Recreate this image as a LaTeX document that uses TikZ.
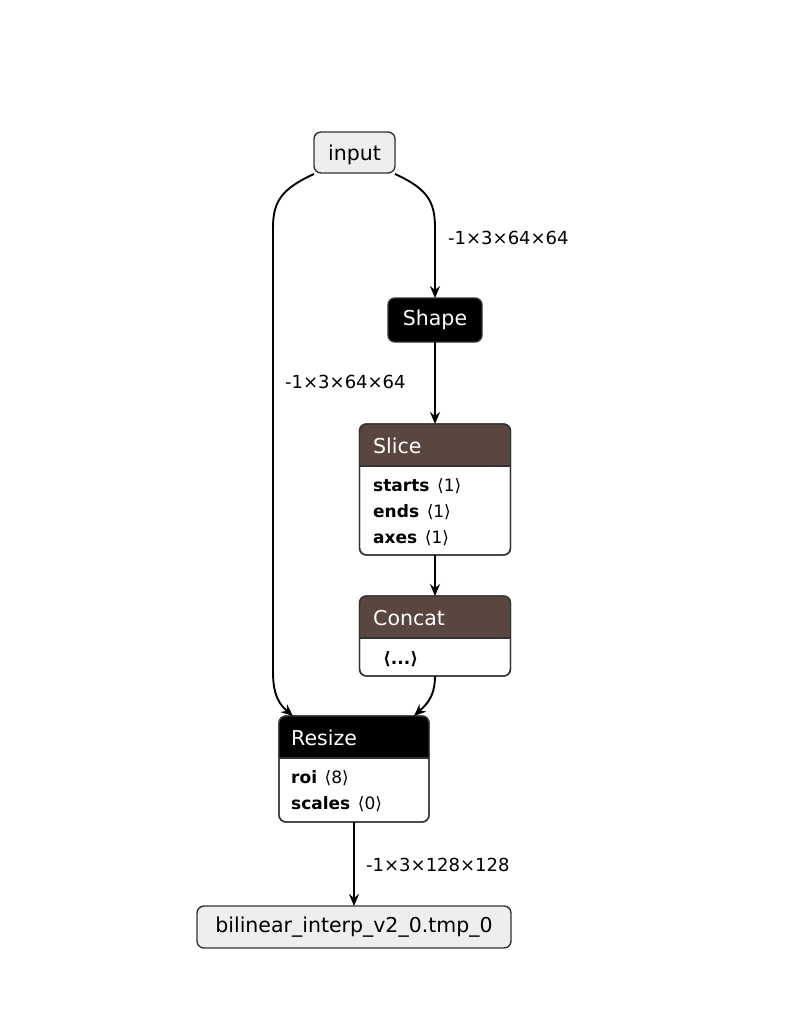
\documentclass[tikz,border=0pt]{standalone}
\usepackage{fontspec}
\setmainfont{DejaVu Sans}
\usetikzlibrary{arrows.meta}
\definecolor{tensorc}{RGB}{89,71,63}
\definecolor{termfill}{RGB}{238,238,238}
\definecolor{bord}{RGB}{51,51,51}
\tikzset{
  box/.style={draw=bord, line width=1.4pt, rounded corners=7pt, inner sep=0pt, outer sep=0pt},
  term/.style={box, fill=termfill, font=\fontsize{20.5}{24}\selectfont},
  blk/.style={box, fill=black, text=white, font=\fontsize{20.5}{24}\selectfont},
  opbox/.style={box, fill=white},
  title/.style={anchor=west, text=white, inner sep=0pt, font=\fontsize{20.5}{24}\selectfont},
  attr/.style={anchor=west, inner sep=0pt, font=\fontsize{17}{20}\selectfont},
  lbl/.style={anchor=west, inner sep=0pt, font=\fontsize{18}{21}\selectfont},
  edge/.style={line width=1.9pt, -{Stealth[length=12pt,width=10pt,inset=4pt]}}
}
\newcommand{\attrgap}{\hspace{0.45em}}
\begin{document}
\begin{tikzpicture}[x=1pt,y=-1pt]
\useasboundingbox (0,0) rectangle (808,1012);
% terminal and simple nodes
\node[term, minimum width=81pt, minimum height=41pt, text depth=0pt, text height=15pt] (input) at (354.5,152.5) {input};
\node[blk, minimum width=94pt, minimum height=44pt] (shape) at (435,320) {Shape};
\node[term, minimum width=314pt, minimum height=42pt] (output) at (354,927) {bilinear\_interp\_v2\_0.tmp\_0};
% Slice
\node[opbox, minimum width=151pt, minimum height=131pt] (slice) at (435,489.5) {};
\begin{scope}
\clip[rounded corners=7pt] (slice.north west) rectangle (slice.south east);
\fill[tensorc] (slice.north west) rectangle ([yshift=-42pt]slice.north east);
\end{scope}
\draw[bord, line width=1.4pt] ([yshift=-42pt]slice.north west) -- ([yshift=-42pt]slice.north east);
\draw[bord, line width=1.4pt, rounded corners=7pt] (slice.north west) rectangle (slice.south east);
\node[title] (sliceT) at (373,446) {Slice};
\node[attr] (sliceA) at (373,486) {\textbf{starts}\attrgap⟨1⟩};
\node[attr] (sliceB) at (373,512) {\textbf{ends}\attrgap⟨1⟩};
\node[attr] (sliceC) at (373,538) {\textbf{axes}\attrgap⟨1⟩};
% Concat
\node[opbox, minimum width=151pt, minimum height=80pt] (concat) at (435,636) {};
\begin{scope}
\clip[rounded corners=7pt] (concat.north west) rectangle (concat.south east);
\fill[tensorc] (concat.north west) rectangle ([yshift=-42pt]concat.north east);
\end{scope}
\draw[bord, line width=1.4pt] ([yshift=-42pt]concat.north west) -- ([yshift=-42pt]concat.north east);
\draw[bord, line width=1.4pt, rounded corners=7pt] (concat.north west) rectangle (concat.south east);
\node[title] (concatT) at (373,618) {Concat};
\node[attr] (concatA) at (383,659) {\textbf{⟨...⟩}};
% Resize
\node[opbox, minimum width=150pt, minimum height=106pt] (resize) at (354,769) {};
\begin{scope}
\clip[rounded corners=7pt] (resize.north west) rectangle (resize.south east);
\fill[black] (resize.north west) rectangle ([yshift=-42pt]resize.north east);
\end{scope}
\draw[bord, line width=1.4pt] ([yshift=-42pt]resize.north west) -- ([yshift=-42pt]resize.north east);
\draw[bord, line width=1.4pt, rounded corners=7pt] (resize.north west) rectangle (resize.south east);
\node[title] (resizeT) at (291,738) {Resize};
\node[attr] (resizeA) at (291,778) {\textbf{roi}\attrgap⟨8⟩};
\node[attr] (resizeB) at (291,804) {\textbf{scales}\attrgap⟨0⟩};
% connectors
\coordinate (r1) at (395,174);
\coordinate (r2) at (435,228);
\draw[edge] (r1) .. controls (428,189) and (435,202) .. (r2) -- (shape.north);
\coordinate (l1) at (314,174);
\coordinate (l2) at (273,228);
\coordinate (l3) at (273,672);
\coordinate (l4) at (293,716);
\draw[edge] (l1) .. controls (281,189) and (273,202) .. (l2) -- (l3) .. controls (273,696) and (280,705) .. (l4);
\draw[edge] (shape.south) -- (slice.north);
\draw[edge] (slice.south) -- (concat.north);
\coordinate (c1) at (435,676);
\coordinate (c2) at (414,716);
\draw[edge] (c1) .. controls (435,697) and (426,705) .. (c2);
\draw[edge] (resize.south) -- (output.north);
% labels
\node[lbl] (lab1) at (448,238) {-1×3×64×64};
\node[lbl] (lab2) at (285,382) {-1×3×64×64};
\node[lbl] (lab3) at (366,865) {-1×3×128×128};
\end{tikzpicture}
\end{document}
